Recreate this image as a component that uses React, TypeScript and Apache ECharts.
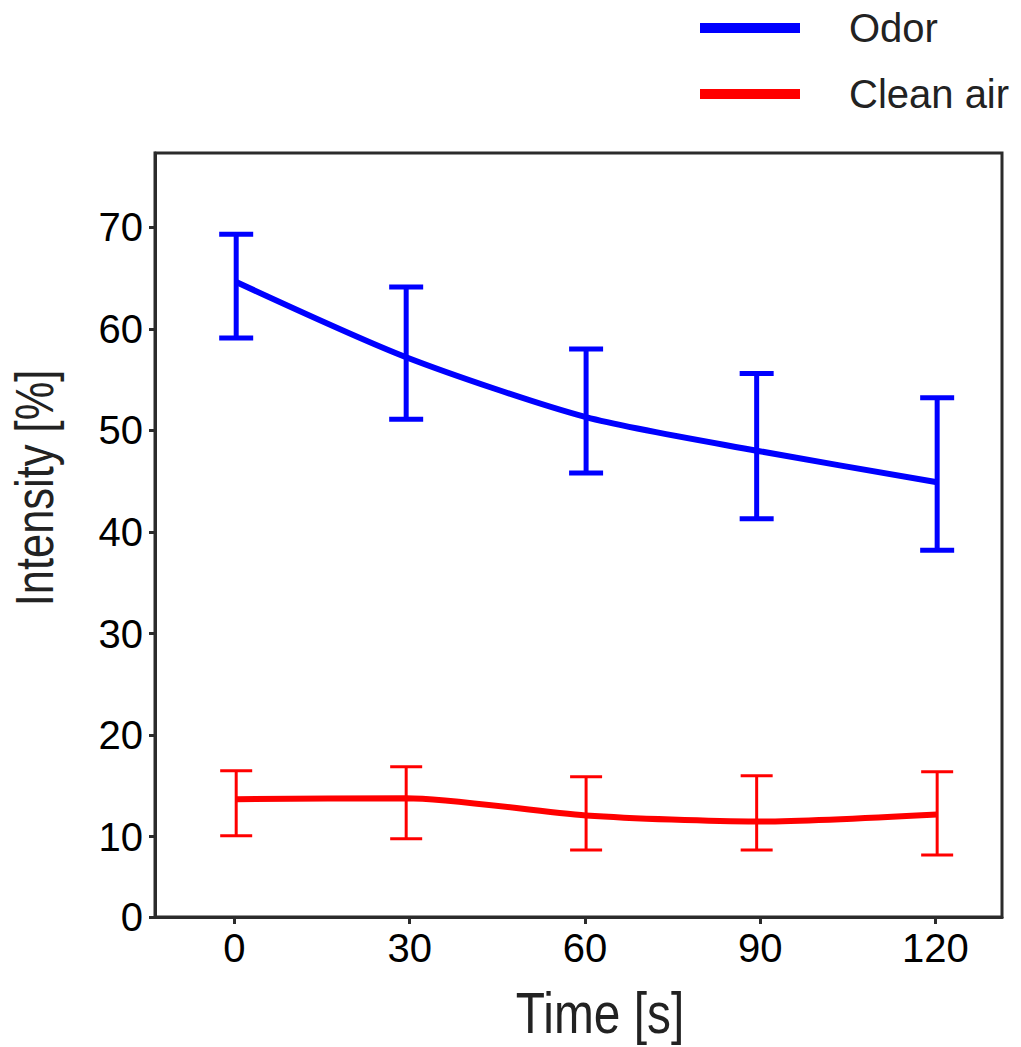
import React, { useEffect, useRef } from "react";
import * as echarts from "echarts";

// ---- data ----
const timePoints = [0.3, 29.4, 60.2, 89.4, 120.3];
const odorMean = [64.6, 57.2, 51.3, 48.0, 44.9];
const odorUpper = [69.3, 64.1, 58.0, 55.6, 53.2];
const odorLower = [59.1, 51.1, 45.8, 41.3, 38.2];
const airMean = [13.7, 13.8, 12.1, 11.5, 12.2];
const airUpper = [16.5, 16.9, 15.9, 16.0, 16.4];
const airLower = [10.1, 9.8, 8.7, 8.7, 8.2];

const xTickValues = [0, 30, 60, 90, 120];
const xTickLabels = ["0", "30", "60", "90", "120"];
const yMinValue = 2.1;
const yMaxValue = 77.3;
const yTickValues = [yMinValue, 10, 20, 30, 40, 50, 60, 70];
const yTickLabels = ["0", "10", "20", "30", "40", "50", "60", "70"];
const xMinValue = -13.6;
const xMaxValue = 131.4;

const seriesNames = ["Odor", "Clean air"];
const BLUE = "#0000ff";
const RED = "#ff0000";
const AXIS = "#2b2b2b";
const SANS = "'Liberation Sans', Arial, Helvetica, sans-serif";

function errorBarSeries(name: string, lower: number[], upper: number[], color: string, lw: number, capHalf: number) {
  return {
    type: "custom",
    name: name + " error",
    data: timePoints.map((x, i) => [x, lower[i], upper[i]]),
    encode: { x: 0, y: [1, 2] },
    z: 3,
    silent: true,
    renderItem: (params: any, api: any) => {
      const x = api.value(0);
      const lo = api.coord([x, api.value(1)]);
      const hi = api.coord([x, api.value(2)]);
      const style = { stroke: color, lineWidth: lw, fill: "none" };
      return {
        type: "group",
        children: [
          { type: "line", shape: { x1: hi[0], y1: hi[1], x2: lo[0], y2: lo[1] }, style },
          { type: "line", shape: { x1: hi[0] - capHalf, y1: hi[1], x2: hi[0] + capHalf, y2: hi[1] }, style },
          { type: "line", shape: { x1: lo[0] - capHalf, y1: lo[1], x2: lo[0] + capHalf, y2: lo[1] }, style },
        ],
      };
    },
  };
}

export default function App() {
  const ref = useRef<HTMLDivElement>(null);
  useEffect(() => {
    if (!ref.current) return;
    const chart = echarts.init(ref.current, null, { renderer: "svg" });
    const option: any = {
      animation: false,
      backgroundColor: "#ffffff",
      grid: {
        left: 155,
        right: 19,
        top: 153,
        bottom: 130,
        containLabel: false,
        outerBoundsMode: "none",
        show: true,
        borderColor: AXIS,
        borderWidth: 3,
        backgroundColor: "transparent",
      },
      legend: {
        data: seriesNames,
        orient: "vertical",
        left: 695,
        top: 3,
        itemWidth: 100,
        itemHeight: 10,
        itemGap: 26,
        icon: "rect",
        selectedMode: false,
        textStyle: {
          fontFamily: SANS,
          fontSize: 40,
          lineHeight: 40,
          color: "#222222",
          padding: [0, 0, 0, 44],
        },
      },
      xAxis: {
        type: "value",
        min: xMinValue,
        max: xMaxValue,
        axisLine: { show: true, onZero: false, lineStyle: { color: AXIS, width: 3 } },
        axisTick: { show: true, length: 7, lineStyle: { color: AXIS, width: 3 }, customValues: xTickValues },
        axisLabel: {
          customValues: xTickValues,
          formatter: (v: number) => xTickLabels[xTickValues.indexOf(v)] ?? "",
          margin: 11,
          fontFamily: SANS,
          fontSize: 40,
          color: "#000000",
        },
        splitLine: { show: false },
      },
      yAxis: {
        type: "value",
        min: yMinValue,
        max: yMaxValue,
        axisLine: { show: true, onZero: false, lineStyle: { color: AXIS, width: 3 } },
        axisTick: { show: true, length: 6, lineStyle: { color: AXIS, width: 3 }, customValues: yTickValues },
        axisLabel: {
          customValues: yTickValues,
          formatter: (v: number) => yTickLabels[yTickValues.indexOf(v)] ?? "",
          margin: 12,
          fontFamily: SANS,
          fontSize: 40,
          color: "#000000",
        },
        splitLine: { show: false },
      },
      graphic: [
        {
          type: "text",
          x: 600,
          y: 1013,
          scaleX: 0.84,
          style: {
            text: "Time [s]",
            fontFamily: SANS,
            fontSize: 57,
            lineHeight: 57,
            fill: "#222222",
            align: "center",
            verticalAlign: "middle",
          },
        },
        {
          type: "text",
          x: 34,
          y: 488,
          rotation: Math.PI / 2,
          scaleX: 0.82,
          style: {
            text: "Intensity [%]",
            fontFamily: SANS,
            fontSize: 53,
            fill: "#222222",
            align: "center",
            verticalAlign: "middle",
          },
        },
      ],
      series: [
        {
          name: seriesNames[0],
          type: "line",
          data: timePoints.map((x, i) => [x, odorMean[i]]),
          showSymbol: false,
          symbol: "none",
          smooth: 0.25,
          color: BLUE,
          lineStyle: { color: BLUE, width: 6 },
          z: 2,
        },
        {
          name: seriesNames[1],
          type: "line",
          data: timePoints.map((x, i) => [x, airMean[i]]),
          showSymbol: false,
          symbol: "none",
          smooth: 0.25,
          color: RED,
          lineStyle: { color: RED, width: 6 },
          z: 2,
        },
        errorBarSeries(seriesNames[0], odorLower, odorUpper, BLUE, 5, 17),
        errorBarSeries(seriesNames[1], airLower, airUpper, RED, 3, 16),
      ],
    };
    chart.setOption(option);
    return () => chart.dispose();
  }, []);
  return (
    <div
      ref={ref}
      style={{ position: "absolute", left: 0, top: 0, width: 1021, height: 1047 }}
    />
  );
}
